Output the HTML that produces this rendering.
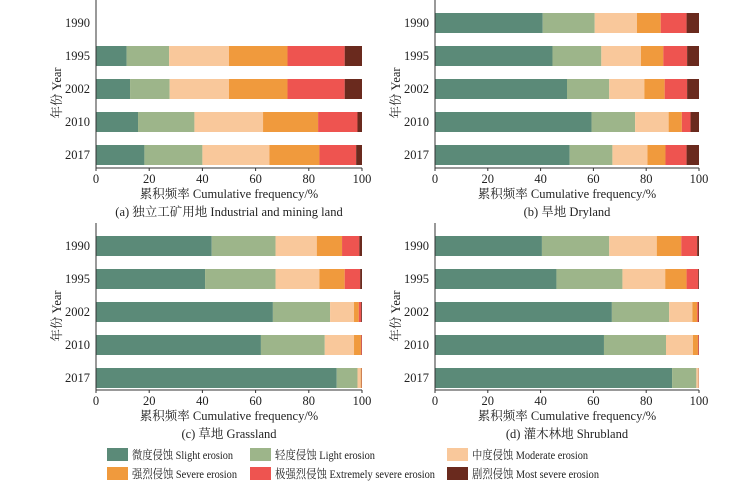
<!DOCTYPE html>
<html><head><meta charset="utf-8"><style>
body{margin:0;background:#fff;}
svg{display:block;font-family:"Liberation Serif","Noto Serif CJK SC",serif;}
</style></head><body>
<svg id="chart" width="753" height="490"></svg>
<script>
const years = ["1990","1995","2002","2010","2017"];
const classes = ["Slight","Light","Moderate","Severe","Extreme","Most"];
const colors = ["#5b8a78","#9db58a","#f9c89b","#f09a3d","#ee5450","#6a2a1e"];
const ticks = [0,20,40,60,80,100];
// cumulative percentages per year per class
const industrial = [null,[11.5,27.5,50,72,93.5,100],[12.8,27.7,50,72,93.5,100],[15.8,37,62.8,83.5,98.3,100],[18.2,40,65.2,84,97.8,100]];
const dryland = [[40.8,60.5,76.5,85.5,95.3,100],[44.5,63,78,86.5,95.5,100],[50,66,79.3,87,95.5,100],[59.3,75.8,88.5,93.5,96.8,100],[51,67.2,80.5,87.3,95.3,100]];
const grassland = [[43.5,67.5,83,92.5,99,100],[41,67.5,84,93.5,99.3,100],[66.5,88,97,98.8,99.7,100],[62,86,97,99.6,99.9,100],[90.5,98.3,99.5,99.8,99.9,100]];
const shrubland = [[40.5,66,84,93.3,99.3,100],[46,71,87.2,95.3,99.7,100],[67,88.7,97.5,99.3,99.8,100],[64,87.5,97.7,99.6,99.9,100],[89.8,99,99.8,99.9,99.95,100]];
const captions = ["(a) 独立工矿用地 Industrial and mining land","(b) 旱地 Dryland","(c) 草地 Grassland","(d) 灌木林地 Shrubland"];
const legendLabels = ["微度侵蚀 Slight erosion","轻度侵蚀 Light erosion","中度侵蚀 Moderate erosion","强烈侵蚀 Severe erosion","极强烈侵蚀 Extremely severe erosion","剧烈侵蚀 Most severe erosion"];

const NS="http://www.w3.org/2000/svg";
const svg=document.getElementById('chart');
function mk(tag,attrs,parent,text){const e=document.createElementNS(NS,tag);for(const k in attrs)e.setAttribute(k,attrs[k]);if(text!=null)e.textContent=text;(parent||svg).appendChild(e);return e;}

const panels=[
 {data:industrial,x0:96,x1:362,y0:13,axisY:168,name:'industrial'},
 {data:dryland,x0:435,x1:699,y0:13,axisY:168,name:'dryland'},
 {data:grassland,x0:96,x1:362,y0:236,axisY:390,name:'grassland'},
 {data:shrubland,x0:435,x1:699,y0:236,axisY:390,name:'shrubland'}];

panels.forEach((p,pi)=>{
  const g=mk('g',{});
  
  
  const xs=v=>p.x0+(p.x1-p.x0)*v/100;
  const yb=i=>p.y0+i*33;
  p.data.forEach((row,i)=>{
    const lab=mk('text',{x:p.x0-6,y:yb(i)+14,'text-anchor':'end','font-size':12.5,fill:'#222'},g,years[i]);
    
    
    if(!row)return;
    let prev=0;
    row.forEach((v,k)=>{
      const r=mk('rect',{x:xs(prev),y:yb(i),width:Math.max(0,xs(v)-xs(prev)),height:20,fill:colors[k]},g);
      
      
      prev=v;
    });
  });
  mk('line',{x1:p.x0,y1:p.y0-13,x2:p.x0,y2:p.axisY,stroke:'#333','stroke-width':1},g);
  mk('line',{x1:p.x0,y1:p.axisY,x2:p.x1,y2:p.axisY,stroke:'#333','stroke-width':1},g);
  ticks.forEach(t=>{
    mk('line',{x1:xs(t),y1:p.axisY,x2:xs(t),y2:p.axisY+3,stroke:'#333'},g);
    const tl=mk('text',{x:xs(t),y:p.axisY+15,'text-anchor':'middle','font-size':12.5,fill:'#222'},g,t);
    
    
  });
  const mid=(p.x0+p.x1)/2;
  const xt=mk('text',{x:mid,y:p.axisY+30,'text-anchor':'middle','font-size':12.5,fill:'#222'},g,'累积频率 Cumulative frequency/%');
  
  
  const cap=mk('text',{x:mid,y:p.axisY+48,'text-anchor':'middle','font-size':12.5,fill:'#222'},g,captions[pi]);
  
  
  const cy=p.y0+80;
  const yt=mk('text',{x:0,y:0,'text-anchor':'middle','font-size':12.5,fill:'#222',transform:`translate(${p.x0-35},${cy}) rotate(-90)`},g,'年份 Year');
  
  
});

const lx=[107,250,447], ly=[448,467];
const lw=[101,100,116,105,160,127];
legendLabels.forEach((l,k)=>{
  const g=mk('g',{});
  
  
  const x=lx[k%3], y=ly[Math.floor(k/3)];
  mk('rect',{x:x,y:y,width:21,height:13,fill:colors[k]},g);
  mk('text',{x:x+25,y:y+11,'font-size':12,fill:'#222',textLength:lw[k],lengthAdjust:'spacingAndGlyphs'},g,l);
});
</script>
</body></html>
